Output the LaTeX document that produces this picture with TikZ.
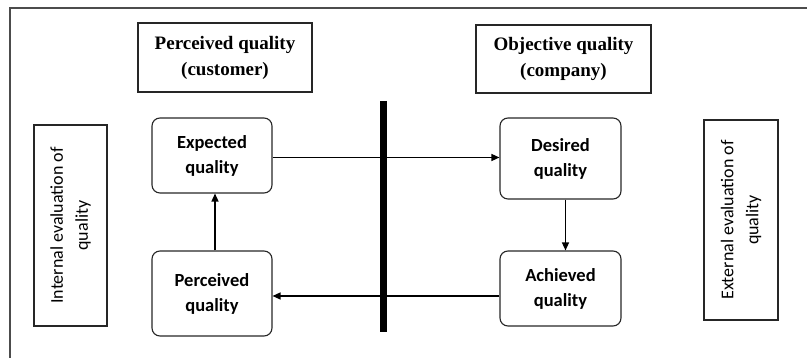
\documentclass[tikz,border=0pt]{standalone}
\usepackage{fontspec}
\newfontfamily\serifbf{Liberation Serif}
\newfontfamily\calfont{Carlito}
\usetikzlibrary{arrows.meta}
\tikzset{
  headbox/.style={draw=black!85, line width=1.1pt, align=center, inner sep=0pt,
    font=\serifbf\bfseries\fontsize{19}{26}\selectfont},
  qbox/.style={draw=black!85, line width=1.1pt, rounded corners=8pt, align=center, inner sep=0pt,
    font=\calfont\bfseries\fontsize{18.5}{25}\selectfont},
  evalbox/.style={draw=black!85, line width=1.1pt, align=center, inner sep=0pt, rotate=90,
    font=\calfont\fontsize{18}{25}\selectfont},
  arr/.style={line width=1.3pt, -{Triangle[length=8pt,width=7pt]}},
}
\begin{document}
\begin{tikzpicture}[x=1pt,y=1pt]
\useasboundingbox (0,0) rectangle (807,358);
% outer frame (open at bottom and right)
\coordinate (fbl) at (10,0);
\coordinate (ftl) at (10,350);
\coordinate (ftr) at (807,350);
\draw[black!70, line width=1.1pt] (fbl) -- (ftl) -- (ftr);
% header boxes
\node[headbox, minimum width=174, minimum height=69] (pq) at (225,300.5) {Perceived quality\\(customer)};
\node[headbox, minimum width=175, minimum height=68] (oq) at (563.5,299) {Objective quality\\(company)};
% evaluation boxes
\node[evalbox, minimum width=201, minimum height=73] (int) at (70.5,132.5) {Internal evaluation of\\quality};
\node[evalbox, minimum width=200, minimum height=74] (ext) at (741,138) {External evaluation of\\quality};
% quality boxes
\node[qbox, minimum width=120, minimum height=75] (exp) at (212,202.5) {Expected\\quality};
\node[qbox, minimum width=120, minimum height=85] (perc) at (212,64.5) {Perceived\\quality};
\node[qbox, minimum width=121, minimum height=81] (des) at (560.5,199.5) {Desired\\quality};
\node[qbox, minimum width=121, minimum height=75] (ach) at (560.5,69.5) {Achieved\\quality};
% dividing bar
\coordinate (bartop) at (383,257);
\coordinate (barbot) at (383,26);
\draw[line width=7pt] (bartop) -- (barbot);
% connectors
\draw[arr] ([yshift=-2pt]exp.east) -- ([yshift=-2pt]exp.east -| des.west);
\draw[arr] ([xshift=5pt]des.south) -- ([xshift=5pt]des.south |- ach.north);
\draw[arr] ([yshift=-7.5pt]ach.west) -- ([yshift=-7.5pt]ach.west -| perc.east);
\draw[arr] ([xshift=3pt]perc.north) -- ([xshift=3pt]perc.north |- exp.south);
\end{tikzpicture}
\end{document}
